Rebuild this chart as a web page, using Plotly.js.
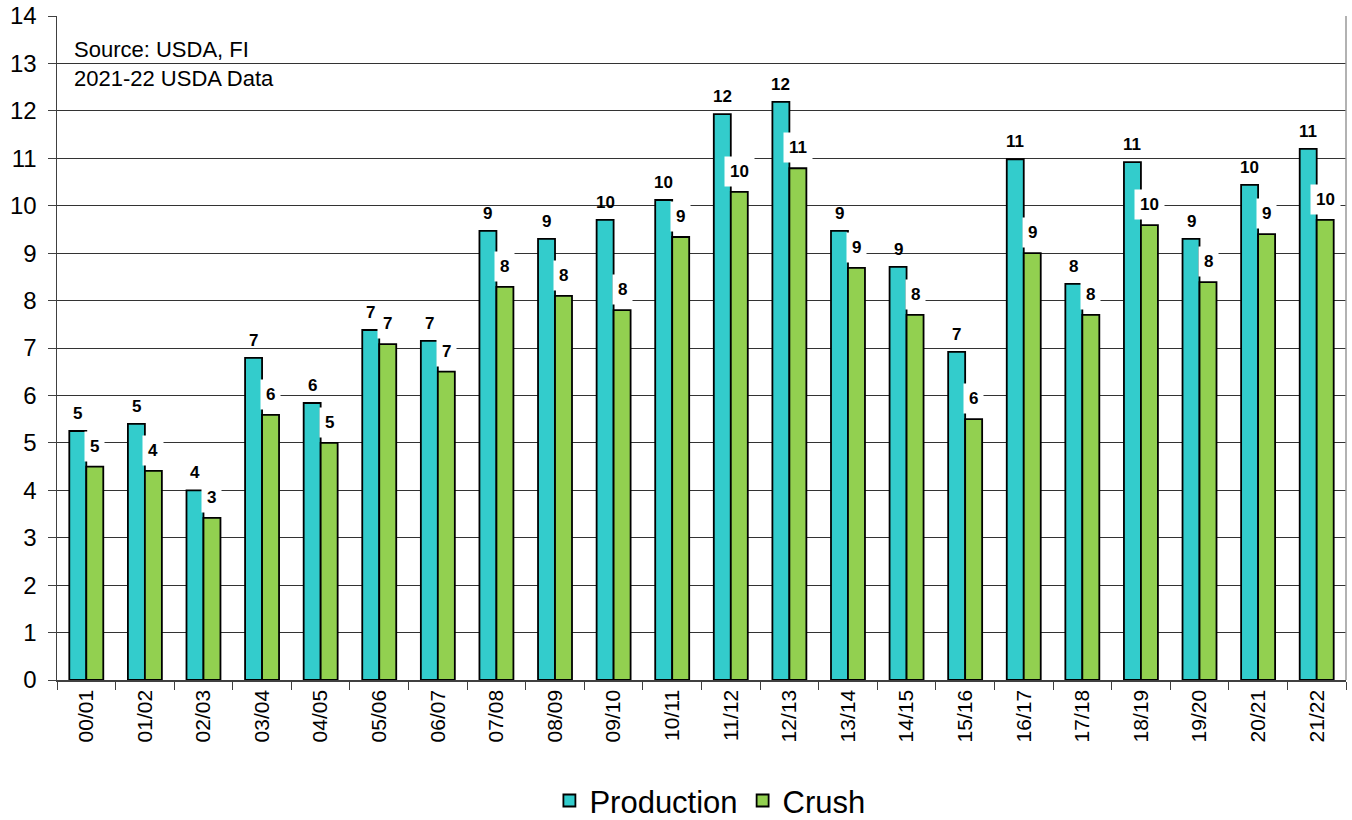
<!DOCTYPE html>
<html>
<head>
<meta charset="utf-8">
<script src="https://cdn.plot.ly/plotly-3.0.1.min.js"></script>
<style>html,body{margin:0;padding:0;background:#fff;}#chart{width:1352px;height:820px;}</style>
</head>
<body>
<div id="chart"></div>
<script>
const categories = ["00/01","01/02","02/03","03/04","04/05","05/06","06/07","07/08","08/09","09/10","10/11","11/12","12/13","13/14","14/15","15/16","16/17","17/18","18/19","19/20","20/21","21/22"];
const production = [5.25,5.40,4.00,6.79,5.84,7.38,7.15,9.47,9.30,9.70,10.12,11.93,12.19,9.47,8.71,6.92,10.98,8.35,10.92,9.30,10.44,11.20];
const crush = [4.50,4.41,3.42,5.59,5.00,7.08,6.50,8.29,8.10,7.80,9.34,10.29,10.79,8.69,7.70,5.50,9.00,7.70,9.59,8.39,9.40,9.70];

const FONT = "Liberation Sans, Arial, sans-serif";
const barHalf = 8.5;

const traces = [
  {type:"bar", name:"Production", x:categories, y:production,
   marker:{color:"#33CCCC", line:{color:"#000", width:1.8}}, hoverinfo:"x+y"},
  {type:"bar", name:"Crush", x:categories, y:crush,
   marker:{color:"#92D050", line:{color:"#000", width:1.8}}, hoverinfo:"x+y"}
];

const annotations = [];
categories.forEach((c,i)=>{
  annotations.push({x:c, y:production[i], xref:"x", yref:"y", text:String(Math.round(production[i])),
    showarrow:false, xshift:-barHalf, yanchor:"bottom", yshift:6,
    font:{family:FONT, size:17, color:"#000", weight:"bold"}});
  annotations.push({x:c, y:crush[i], xref:"x", yref:"y", text:String(Math.round(crush[i])),
    showarrow:false, xshift:barHalf, yanchor:"bottom", yshift:5,
    bgcolor:"#fff", borderpad:5,
    font:{family:FONT, size:17, color:"#000", weight:"bold"}});
});
annotations.push({xref:"paper", yref:"paper", x:0.012, y:0.972, xanchor:"left", yanchor:"top", align:"left",
  text:"Source: USDA, FI<br>2021-22 USDA Data", showarrow:false,
  font:{family:FONT, size:22, color:"#000"}});

const layout = {
  width:1352, height:820,
  margin:{l:57, r:6, t:16, b:140, autoexpand:false},
  paper_bgcolor:"#fff", plot_bgcolor:"#fff",
  barmode:"group", bargap:0.42, bargroupgap:0,
  showlegend:true,
  legend:{orientation:"h", x:0.382, xanchor:"left", y:-0.182, yanchor:"middle",
    font:{family:FONT, size:31, color:"#000"}, traceorder:"normal"},
  xaxis:{type:"category", tickangle:-90, tickfont:{family:FONT, size:21, color:"#000"},
    showline:true, linecolor:"#404040", linewidth:1.5, mirror:false, automargin:false,
    ticks:"outside", tickson:"boundaries", ticklen:8, tickcolor:"#404040", showgrid:false},
  yaxis:{range:[0,14], dtick:1, tickfont:{family:FONT, size:24, color:"#000"}, automargin:false,
    showline:true, linecolor:"#404040", linewidth:1.5,
    ticks:"outside", ticklen:8, tickcolor:"#404040",
    showgrid:true, gridcolor:"#333", gridwidth:1, zeroline:false, ticklabelstandoff:6},
  shapes:[{type:"line", xref:"paper", yref:"paper", x0:1, x1:1, y0:0, y1:1, line:{color:"#999", width:1.5}}],
  annotations:annotations,
  font:{family:FONT}
};

Plotly.newPlot("chart", traces, layout, {displayModeBar:false, staticPlot:true});
</script>
</body>
</html>
